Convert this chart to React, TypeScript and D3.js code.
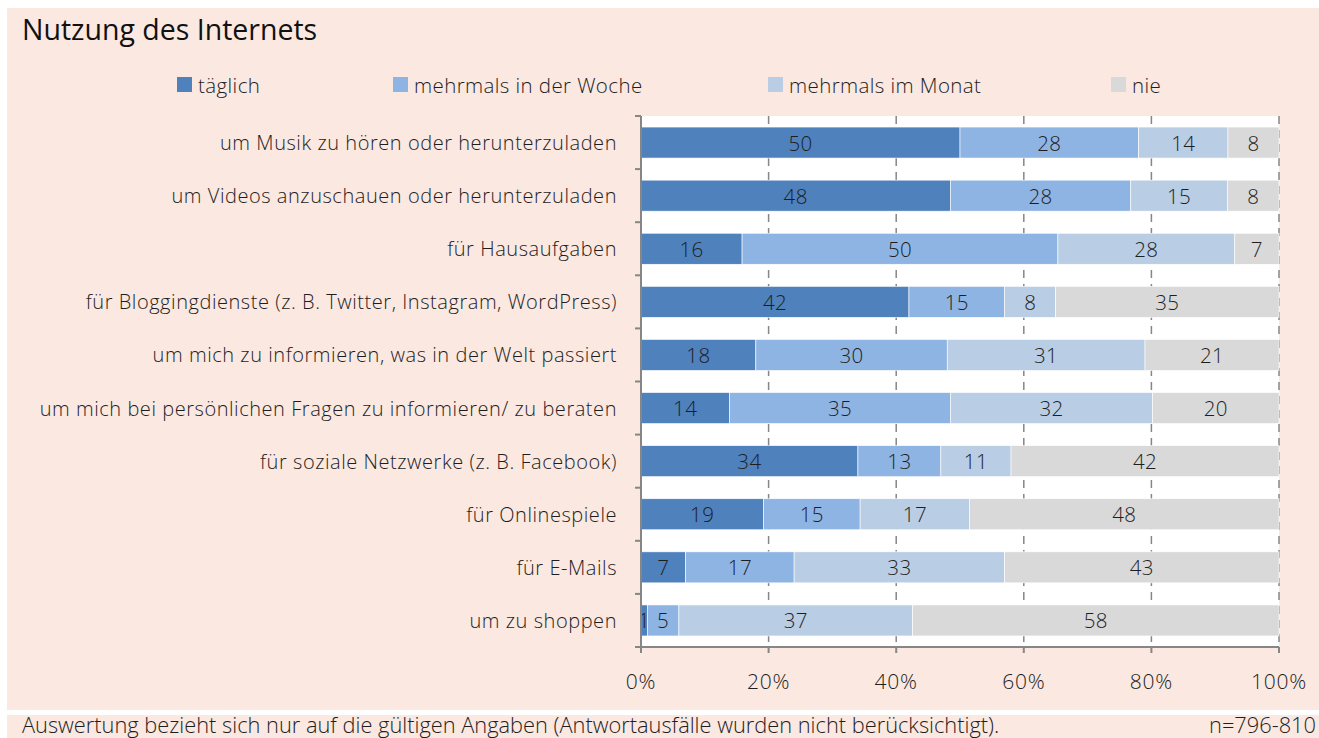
import React, { useEffect, useRef } from 'react';
import * as d3 from 'd3';

// chart data
const categories = [
  'um Musik zu hören oder herunterzuladen',
  'um Videos anzuschauen oder herunterzuladen',
  'für Hausaufgaben',
  'für Bloggingdienste (z. B. Twitter, Instagram, WordPress)',
  'um mich zu informieren, was in der Welt passiert',
  'um mich bei persönlichen Fragen zu informieren/ zu beraten',
  'für soziale Netzwerke (z. B. Facebook)',
  'für Onlinespiele',
  'für E-Mails',
  'um zu shoppen',
];
const seriesNames = ['täglich', 'mehrmals in der Woche', 'mehrmals im Monat', 'nie'];
const taeglich = [50, 48, 16, 42, 18, 14, 34, 19, 7, 1];
const mehrmalsWoche = [28, 28, 50, 15, 30, 35, 13, 15, 17, 5];
const mehrmalsMonat = [14, 15, 28, 8, 31, 32, 11, 17, 33, 37];
const nie = [8, 8, 7, 35, 21, 20, 42, 48, 43, 58];
const xTicks = [0, 20, 40, 60, 80, 100];
const title = 'Nutzung des Internets';
const footnote = 'Auswertung bezieht sich nur auf die gültigen Angaben (Antwortausfälle wurden nicht berücksichtigt).';
const sampleNote = 'n=796-810';

const App: React.FC = () => {
  const svgRef = useRef<SVGSVGElement>(null);

  useEffect(() => {
    if (!svgRef.current) return;
    d3.select(svgRef.current).selectAll('*').remove();

    const width = 1319;
    const height = 738;
    const bgColor = '#fae8e1';
    const colors = ['#4f81bd', '#8eb4e3', '#b9cde5', '#d9d9d9'];
    const axisColor = '#868686';
    const textColor = '#1e1e1e';
    const labelFont = "'Open Sans', 'DejaVu Sans', sans-serif";
    const labelSize = 20;
    const labelSpacing = 0.55;
    const plainFont = "'Open Sans', 'Noto Sans', sans-serif";

    const plotLeft = 641;
    const plotRight = 1279;
    const plotTop = 116;
    const plotBottom = 647;

    const svg = d3.select(svgRef.current)
      .attr('width', width)
      .attr('height', height);

    // panel backgrounds
    svg.append('rect').attr('x', 7).attr('y', 8).attr('width', width - 7).attr('height', 702).attr('fill', bgColor);
    svg.append('rect').attr('x', 7).attr('y', 715).attr('width', width - 7).attr('height', 23).attr('fill', bgColor);
    svg.append('rect')
      .attr('x', plotLeft).attr('y', plotTop)
      .attr('width', plotRight - plotLeft).attr('height', plotBottom - plotTop)
      .attr('fill', '#fff');

    const x = d3.scaleLinear().domain([0, 100]).range([plotLeft, plotRight]);
    const y = d3.scaleBand<string>()
      .domain(categories)
      .range([plotTop, plotBottom])
      .paddingInner(0.416)
      .paddingOuter(0.208);

    const labelText = (sel: d3.Selection<SVGTextElement, unknown, null, undefined>, size = labelSize, spacing = labelSpacing) =>
      sel.attr('font-family', labelFont)
        .attr('font-weight', 300)
        .attr('font-size', size)
        .attr('letter-spacing', spacing)
        .attr('fill', textColor);

    // dashed grid lines
    svg.append('g').selectAll('line')
      .data(xTicks.slice(1))
      .join('line')
      .attr('x1', d => x(d)).attr('x2', d => x(d))
      .attr('y1', plotTop).attr('y2', plotBottom)
      .attr('stroke', axisColor)
      .attr('stroke-width', 1.5)
      .attr('stroke-dasharray', '8,6');

    // stacked bars (100% stacked)
    const seriesValues = [taeglich, mehrmalsWoche, mehrmalsMonat, nie];
    const rows = categories.map((c, i) => {
      const vals = seriesValues.map(s => s[i]);
      const total = d3.sum(vals);
      let acc = 0;
      return vals.map((v, k) => {
        const start = acc / total * 100;
        acc += v;
        return { cat: c, k, value: v, x0: start, x1: acc / total * 100 };
      });
    });

    const barG = svg.append('g');
    rows.forEach(row => {
      row.forEach(seg => {
        barG.append('rect')
          .attr('x', x(seg.x0))
          .attr('y', y(seg.cat)!)
          .attr('width', x(seg.x1) - x(seg.x0))
          .attr('height', y.bandwidth())
          .attr('fill', colors[seg.k])
          .attr('stroke', '#fff')
          .attr('stroke-width', 0.6);
        barG.append('text')
          .attr('x', (x(seg.x0) + x(seg.x1)) / 2)
          .attr('y', y(seg.cat)! + y.bandwidth() / 2)
          .attr('text-anchor', 'middle')
          .attr('dominant-baseline', 'central')
          .call(labelText, 20.5, 0.4)
          .text(seg.value);
      });
    });

    // left axis with ticks between categories
    svg.append('line')
      .attr('x1', plotLeft).attr('x2', plotLeft)
      .attr('y1', plotTop).attr('y2', plotBottom + 6)
      .attr('stroke', axisColor).attr('stroke-width', 2);
    const step = y.step();
    d3.range(categories.length + 1).forEach(i => {
      const yy = plotTop + i * step;
      svg.append('line')
        .attr('x1', plotLeft - 6).attr('x2', plotLeft)
        .attr('y1', yy).attr('y2', yy)
        .attr('stroke', axisColor).attr('stroke-width', 2);
    });

    // bottom axis
    svg.append('line')
      .attr('x1', plotLeft).attr('x2', plotRight)
      .attr('y1', plotBottom).attr('y2', plotBottom)
      .attr('stroke', axisColor).attr('stroke-width', 2);
    xTicks.forEach(t => {
      svg.append('text')
        .attr('x', x(t))
        .attr('y', 689)
        .attr('text-anchor', 'middle')
        .call(labelText, 21, 0.8)
        .text(`${t}%`);
      svg.append('line')
        .attr('x1', x(t)).attr('x2', x(t))
        .attr('y1', plotBottom).attr('y2', plotBottom + 6)
        .attr('stroke', axisColor).attr('stroke-width', 2);
    });

    // category labels
    categories.forEach(c => {
      svg.append('text')
        .attr('x', 617)
        .attr('y', y(c)! + y.bandwidth() / 2)
        .attr('text-anchor', 'end')
        .attr('dominant-baseline', 'central')
        .call(labelText)
        .text(c);
    });

    // legend
    const legendX = [177, 393, 768, 1111];
    seriesNames.forEach((name, k) => {
      svg.append('rect')
        .attr('x', legendX[k]).attr('y', 77)
        .attr('width', 15).attr('height', 15)
        .attr('fill', colors[k]);
      svg.append('text')
        .attr('x', legendX[k] + 21)
        .attr('y', 84.5)
        .attr('dominant-baseline', 'central')
        .call(labelText, 20.5, 0.4)
        .text(name);
    });

    // title
    svg.append('text')
      .attr('x', 22).attr('y', 40)
      .attr('font-family', plainFont)
      .attr('font-weight', 500)
      .attr('font-size', 28.5)
      .attr('fill', '#111')
      .text(title);

    // footnotes
    svg.append('text')
      .attr('x', 22).attr('y', 733)
      .attr('font-family', plainFont)
      .attr('font-weight', 300)
      .attr('font-size', 21.8)
      .attr('fill', textColor)
      .text(footnote);
    svg.append('text')
      .attr('x', 1316).attr('y', 733)
      .attr('text-anchor', 'end')
      .attr('font-family', plainFont)
      .attr('font-weight', 300)
      .attr('font-size', 21.8)
      .attr('fill', textColor)
      .text(sampleNote);
  }, []);

  return (
    <div style={{ position: 'absolute', left: 0, top: 0 }}>
      <svg ref={svgRef}></svg>
    </div>
  );
};

export default App;
